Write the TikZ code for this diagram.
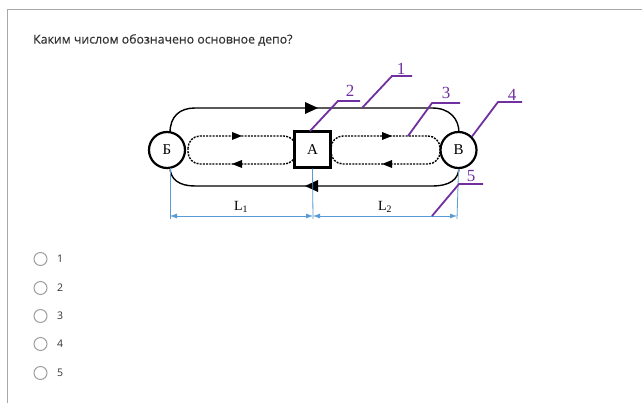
\documentclass[tikz,border=0pt]{standalone}
\usepackage{fontspec}
\setmainfont{Liberation Serif}
\newfontfamily\uisans{Open Sans}
\newfontfamily\uisanstitle[FakeBold=0.35]{Open Sans}
\usetikzlibrary{arrows.meta}
\definecolor{dimblue}{HTML}{5B9BD5}
\definecolor{leadc}{HTML}{7030A0}
\definecolor{framec}{HTML}{A8A8A8}
\definecolor{qtext}{HTML}{333333}
\definecolor{radioc}{HTML}{A0A0A0}
\tikzset{
  station/.style={circle, draw, line width=2.2pt, minimum size=36pt, inner sep=0pt, fill=white, font=\fontsize{15}{15}\selectfont},
  depot/.style={rectangle, draw, line width=2.2pt, minimum size=36pt, inner sep=0pt, fill=white, font=\fontsize{15}{15}\selectfont},
  track/.style={line width=1.4pt},
  dotloop/.style={line width=1.4pt, dash pattern=on 2pt off 1.2pt, rounded corners=12pt},
  dimline/.style={dimblue, line width=0.8pt},
  dimarrow/.style={dimline, {Latex[length=7pt,width=5pt]}-{Latex[length=7pt,width=5pt]}},
  leadline/.style={leadc, line width=1.8pt},
  tag/.style={text=leadc, font=\fontsize{17}{17}\selectfont, inner sep=0pt},
  dimlabel/.style={font=\fontsize{14}{14}\selectfont, inner sep=0pt},
  radio/.style={draw=radioc, line width=1pt},
  optlabel/.style={text=qtext, font=\uisans\fontsize{10.5}{11}\selectfont, anchor=west, inner sep=0pt},
  pics/bigright/.style={code={\fill (6.5,0) -- (-6.5,-6) -- (-6.5,6) -- cycle;}},
  pics/bigleft/.style={code={\fill (-6.5,0) -- (6.5,-6) -- (6.5,6) -- cycle;}},
  pics/smallright/.style={code={\fill (5,0) -- (-5,-4) -- (-5,4) -- cycle;}},
  pics/smallleft/.style={code={\fill (-5,0) -- (5,-4) -- (5,4) -- cycle;}},
}
\begin{document}
\begin{tikzpicture}[x=1pt,y=-1pt]
\useasboundingbox[fill=white] (0,0) rectangle (642,403);
% frame
\draw[framec, line width=1pt] (7,403) -- (7,10) -- (642,10);
% question
\node[anchor=west, text=qtext, font=\uisanstitle\fontsize{12.3}{13}\selectfont, inner sep=0pt] (q) at (33,40) {Каким числом обозначено основное депо?};

% dotted loops
\draw[dotloop] (188,136) rectangle (296,164);
\draw[dotloop] (331,136) rectangle (440,164);
% outer loop
\coordinate (tl) at (195,108);
\coordinate (tr) at (432,108);
\coordinate (bl) at (195,186);
\coordinate (br) at (432,186);
\draw[track] (170,133) .. controls (170,116) and (180,108) .. (tl) -- (tr) .. controls (449,108) and (459,118) .. (459,133);
\draw[track] (170,167) .. controls (170,180) and (180,186) .. (bl) -- (br) .. controls (449,186) and (459,180) .. (459,167);

% stations
\node[station] (B) at (167,150) {Б};
\node[depot] (A) at (312.5,149.5) {А};
\node[station] (V) at (458.5,150) {В};

% arrows
\pic at (311.5,108) {bigright};
\pic at (311.5,186) {bigleft};
\pic at (237,136) {smallright};
\pic at (237,164) {smallleft};
\pic at (387,136) {smallright};
\pic at (387,164) {smallleft};

% dimensions
\coordinate (d1) at (170,216);
\coordinate (d2) at (313,216);
\coordinate (d3) at (457,216);
\draw[dimline] (170,168) -- (170,219);
\draw[dimline] (A.south) -- (313,219);
\draw[dimline] (V.south) -- (457,219);
\draw[dimarrow] (d1) -- (d2);
\draw[dimarrow] (d2) -- (d3);
\node[dimlabel] (L1) at (241,207) {L\textsubscript{1}};
\node[dimlabel] (L2) at (385,207) {L\textsubscript{2}};

% leaders
\coordinate (p1) at (362,108);
\coordinate (p2) at (310,131);
\coordinate (p3) at (408,136);
\coordinate (p4) at (V.45);
\coordinate (p5) at (432,216);
\node[tag] (t1) at (401,69) {1};
\node[tag] (t2) at (350,91) {2};
\node[tag] (t3) at (446,93) {3};
\node[tag] (t4) at (512,95) {4};
\node[tag] (t5) at (471,176) {5};
\draw[leadline] (p1) -- (392,76) -- (412,76);
\draw[leadline] (p2) -- (338,101) -- (360,101);
\draw[leadline] (p3) -- (432,103) -- (460,103);
\draw[leadline] (p4) -- (498,102) -- (522,102);
\draw[leadline] (p5) -- (459,184) -- (483,184);

% options
\foreach \i/\y in {1/259,2/288,3/316,4/344,5/373}{
  \draw[radio] (40.5,\y) circle (6.5);
  \node[optlabel] (o\i) at (57,\y) {\i};
}
\end{tikzpicture}
\end{document}
